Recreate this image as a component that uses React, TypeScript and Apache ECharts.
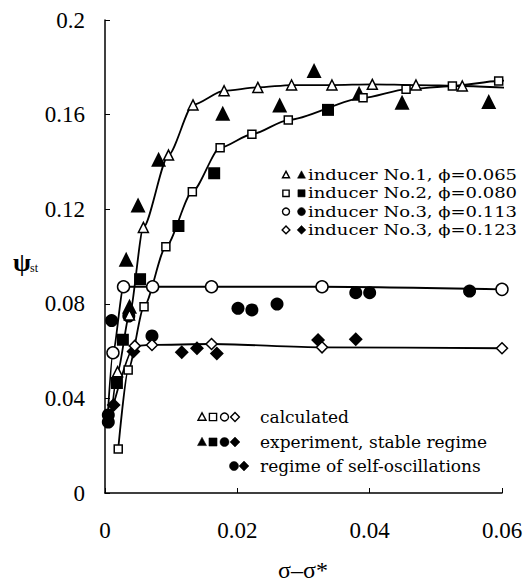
import React, { useEffect, useRef } from "react";
import * as echarts from "echarts";

// calculated (open markers, curves); items listed in *Ends are curve ends without a marker
const calcTri: number[][] = [
  [0.0008, 0.028], [0.0019, 0.0513], [0.0037, 0.0753], [0.0058, 0.1123], [0.0096, 0.1429],
  [0.0133, 0.1641], [0.018, 0.1701], [0.0231, 0.1715], [0.0282, 0.1725], [0.0343, 0.1725],
  [0.0404, 0.1728], [0.047, 0.1725], [0.054, 0.1721], [0.0608, 0.1713],
];
const calcSq: number[][] = [
  [0.002, 0.0186], [0.0035, 0.052], [0.0059, 0.0788], [0.0092, 0.1041], [0.0132, 0.1274],
  [0.0174, 0.146], [0.0222, 0.1517], [0.0277, 0.1577], [0.039, 0.1671], [0.0455, 0.1707],
  [0.0525, 0.1721], [0.0595, 0.1742], [0.0609, 0.1745],
];
const calcCirc: number[][] = [
  [0.0004, 0.032], [0.0012, 0.0593], [0.0028, 0.0872], [0.0072, 0.0872], [0.0161, 0.0872],
  [0.0328, 0.0872], [0.06, 0.0861],
];
const calcDia: number[][] = [
  [0.0004, 0.028], [0.0045, 0.0622], [0.0071, 0.0626], [0.0161, 0.063], [0.0328, 0.0616],
  [0.06, 0.0612],
];
const calcTriEnds = [0, 13];
const calcSqEnds = [12];
const calcCircEnds = [0];
const calcDiaEnds = [0];

// experiment (filled markers)
const expTri: number[][] = [
  [0.0032, 0.0988], [0.0037, 0.079], [0.005, 0.1218], [0.0081, 0.1411], [0.0178, 0.1606],
  [0.0264, 0.1641], [0.0316, 0.1786], [0.0384, 0.169], [0.0449, 0.1652], [0.058, 0.1655],
];
const expSq: number[][] = [
  [0.0018, 0.0465], [0.0027, 0.0648], [0.0053, 0.0904], [0.0111, 0.1129], [0.0165, 0.1352],
  [0.0337, 0.162],
];
const expCirc: number[][] = [
  [0.0005, 0.033], [0.0005, 0.03], [0.001, 0.0729], [0.0036, 0.0748], [0.0071, 0.0664],
  [0.0201, 0.0781], [0.0222, 0.0774], [0.026, 0.0799], [0.0379, 0.0847], [0.04, 0.0847],
  [0.0551, 0.0854],
];
const expDia: number[][] = [
  [0.0013, 0.0372], [0.0043, 0.0598], [0.0116, 0.0595], [0.0139, 0.0612], [0.0169, 0.059],
  [0.0322, 0.0647], [0.0379, 0.065],
];

const legendTop = [
  "inducer No.1, \u03D5=0.065",
  "inducer No.2, \u03D5=0.080",
  "inducer No.3, \u03D5=0.113",
  "inducer No.3, \u03D5=0.123",
];
const legendBottom = ["calculated", "experiment, stable regime", "regime of self-oscillations"];
const xTicks = [0, 0.02, 0.04, 0.06];
const yTicks = [0, 0.04, 0.08, 0.12, 0.16, 0.2];

const SERIF = "'Liberation Serif', 'Times New Roman', serif";
const DSERIF = "'DejaVu Serif', serif";

type Shape = "tri" | "sq" | "circ" | "dia";

function marker(shape: Shape, filled: boolean, cx: number, cy: number, s: number): any {
  const style = {
    fill: filled ? "#000" : "#fff",
    stroke: "#000",
    lineWidth: filled ? 0.5 : 1.4,
  };
  const h = s / 2;
  if (shape === "tri")
    return {
      type: "polygon",
      shape: { points: [[cx, cy - h * 1.05], [cx - h, cy + h * 0.8], [cx + h, cy + h * 0.8]] },
      style,
    };
  if (shape === "sq")
    return { type: "rect", shape: { x: cx - h * 0.9, y: cy - h * 0.9, width: s * 0.9, height: s * 0.9 }, style };
  if (shape === "circ") return { type: "circle", shape: { cx, cy, r: h }, style };
  return {
    type: "polygon",
    shape: { points: [[cx, cy - h * 1.1], [cx + h * 1.1, cy], [cx, cy + h * 1.1], [cx - h * 1.1, cy]] },
    style,
  };
}

function withEnds(data: number[][], ends: number[]) {
  return data.map((p, i) => (ends.includes(i) ? { value: p, symbol: "none" } : { value: p }));
}

export default function App() {
  const ref = useRef<HTMLDivElement>(null);
  useEffect(() => {
    if (!ref.current) return;
    const chart = echarts.init(ref.current, undefined, { renderer: "svg" });

    const calcSeries = (data: number[][], ends: number[], symbol: string, size: number) => ({
      type: "line",
      data: withEnds(data, ends),
      smooth: 0.25,
      smoothMonotone: "x",
      symbol,
      symbolSize: size,
      showAllSymbol: true,
      lineStyle: { color: "#000", width: 1.8 },
      itemStyle: { color: "#fff", borderColor: "#000", borderWidth: 1.5 },
      z: 3,
    });
    const expSeries = (data: number[][], symbol: string, size: number) => ({
      type: "scatter",
      data,
      symbol,
      symbolSize: size,
      itemStyle: { color: "#000", opacity: 1 },
      z: 2,
    });

    const graphic: any[] = [];
    const topShapes: Shape[] = ["tri", "sq", "circ", "dia"];
    const topY = [175, 193.3, 211.6, 229.9];
    legendTop.forEach((t, i) => {
      graphic.push(marker(topShapes[i], false, 286, topY[i], 7));
      graphic.push(marker(topShapes[i], true, 301.5, topY[i], 8));
      graphic.push({
        type: "text",
        x: 308,
        y: topY[i],
        scaleX: 1.2,
        style: {
          text: t,
          fontFamily: DSERIF,
          fontSize: 15,
          fill: "#000",
          verticalAlign: "middle",
        },
      });
    });
    const botY = [417, 442, 466];
    const botX = [202, 213, 224.5, 235];
    topShapes.forEach((s, k) => {
      graphic.push(marker(s, false, botX[k], botY[0], 8));
      graphic.push(marker(s, true, botX[k], botY[1], 9));
    });
    graphic.push(marker("circ", true, 234, botY[2], 9));
    graphic.push(marker("dia", true, 244, botY[2], 9));
    legendBottom.forEach((t, i) => {
      graphic.push({
        type: "text",
        x: 260,
        y: botY[i],
        style: { text: t, fontFamily: DSERIF, fontSize: 17, fill: "#000", verticalAlign: "middle" },
      });
    });
    graphic.push({
      type: "text",
      x: 22,
      y: 262,
      style: { text: "\u03C8", fontFamily: SERIF, fontSize: 26, fontWeight: "bold", fill: "#000", align: "center", verticalAlign: "middle" },
    });
    graphic.push({
      type: "text",
      x: 30,
      y: 268,
      style: { text: "st", fontFamily: SERIF, fontSize: 12, fill: "#000", verticalAlign: "middle" },
    });
    graphic.push({
      type: "text",
      x: 303,
      y: 570,
      style: { text: "\u03C3\u2013\u03C3*", fontFamily: SERIF, fontSize: 24, fill: "#000", align: "center", verticalAlign: "middle" },
    });

    const fmt = (v: number) => String(+v.toFixed(2));

    chart.setOption({
      animation: false,
      backgroundColor: "#fff",
      grid: { left: 105, right: 24, top: 20, bottom: 93 },
      xAxis: {
        type: "value",
        min: xTicks[0],
        max: xTicks[xTicks.length - 1],
        interval: xTicks[1] - xTicks[0],
        axisLine: { show: true, lineStyle: { color: "#000", width: 1.5 } },
        axisTick: { show: true, inside: true, length: 5, lineStyle: { color: "#000", width: 1 } },
        axisLabel: { formatter: fmt, fontFamily: SERIF, fontSize: 23, color: "#000", margin: 26 },
        splitLine: { show: false },
      },
      yAxis: {
        type: "value",
        min: yTicks[0],
        max: yTicks[yTicks.length - 1],
        interval: yTicks[1] - yTicks[0],
        axisLine: { show: true, lineStyle: { color: "#000", width: 1.5 } },
        axisTick: { show: true, inside: true, length: 5, lineStyle: { color: "#000", width: 1 } },
        axisLabel: { formatter: fmt, fontFamily: SERIF, fontSize: 23, color: "#000", margin: 20 },
        splitLine: { show: false },
      },
      graphic,
      series: [
        expSeries(expTri, "triangle", 15),
        expSeries(expSq, "rect", 12),
        expSeries(expCirc, "circle", 13),
        expSeries(expDia, "diamond", 14),
        calcSeries(calcTri, calcTriEnds, "triangle", 10),
        calcSeries(calcSq, calcSqEnds, "rect", 8),
        calcSeries(calcCirc, calcCircEnds, "circle", 12),
        calcSeries(calcDia, calcDiaEnds, "diamond", 11),
      ],
    });
    return () => chart.dispose();
  }, []);
  return (
    <div
      ref={ref}
      style={{ position: "fixed", left: 0, top: 0, width: 526, height: 586, background: "#fff" }}
    />
  );
}
